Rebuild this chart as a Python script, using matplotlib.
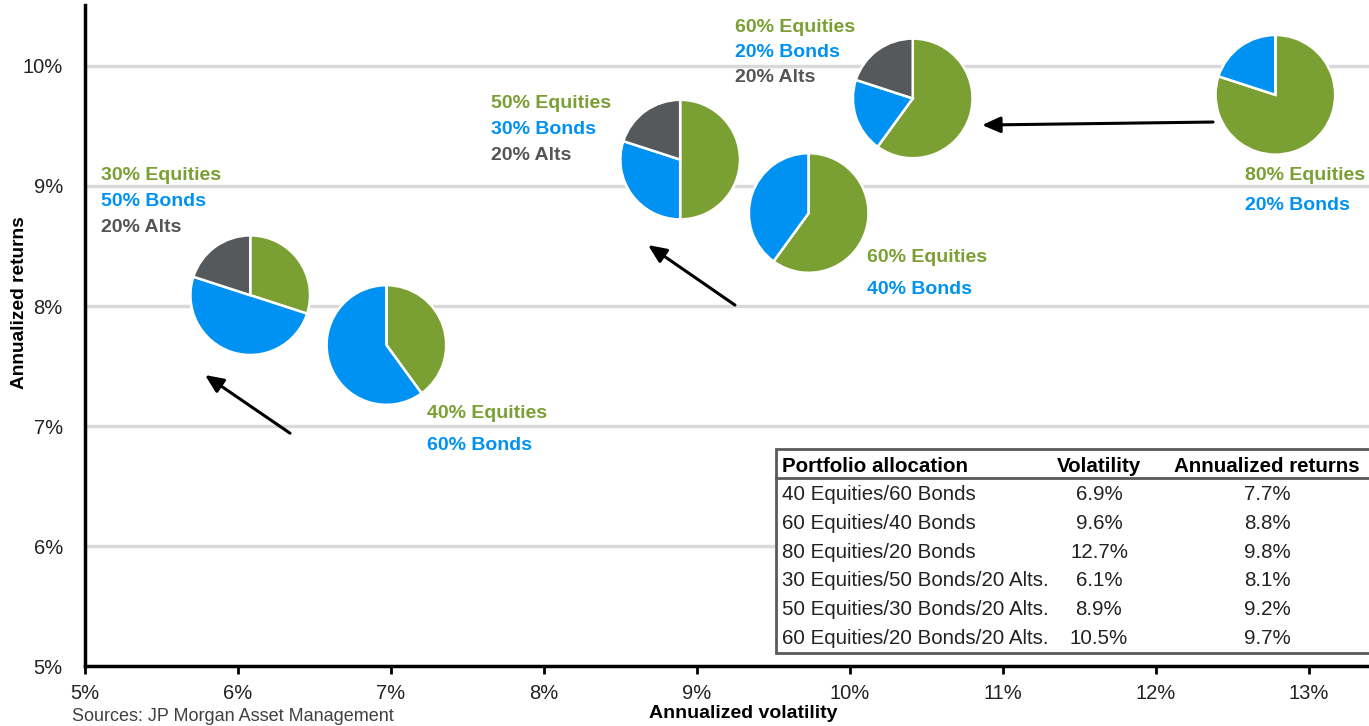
import matplotlib as mpl
import matplotlib.pyplot as plt
from matplotlib.patches import Rectangle

# data
labels = ["40 Equities/60 Bonds", "60 Equities/40 Bonds", "80 Equities/20 Bonds",
          "30 Equities/50 Bonds/20 Alts.", "50 Equities/30 Bonds/20 Alts.",
          "60 Equities/20 Bonds/20 Alts."]
volatility = [6.9, 9.6, 12.7, 6.1, 8.9, 10.5]
returns = [7.7, 8.8, 9.8, 8.1, 9.2, 9.7]
equities = [40, 60, 80, 30, 50, 60]
bonds = [60, 40, 20, 50, 30, 20]
alts = [0, 0, 0, 20, 20, 20]
# pie centres as drawn in the chart
pie_vol = [6.97, 9.73, 12.78, 6.08, 8.89, 10.41]
pie_ret = [7.675, 8.775, 9.76, 8.09, 9.22, 9.73]
x_ticks = [5, 6, 7, 8, 9, 10, 11, 12, 13]
y_ticks = [5, 6, 7, 8, 9, 10]

green = '#7a9f32'
blue = '#0092f2'
grey = '#55595c'

W, H = 1369, 726
mpl.rcParams['font.family'] = ['Liberation Sans', 'DejaVu Sans']

fig = plt.figure(figsize=(W / 100, H / 100), dpi=100)
ax = fig.add_axes([85 / W, 1 - 666 / H, 1 - 85 / W, (666 - 5) / H])
ax.set_xlim(5, 5 + (W - 85) / 153)
ax.set_ylim(5, 5 + 661 / 120)

ax.spines['top'].set_visible(False)
ax.spines['right'].set_visible(False)
for s in ['left', 'bottom']:
    ax.spines[s].set_linewidth(2.5)
    ax.spines[s].set_color('black')
ax.set_xticks(x_ticks)
ax.set_xticklabels(['%d%%' % t for t in x_ticks])
ax.set_yticks(y_ticks)
ax.set_yticklabels(['%d%%' % t for t in y_ticks])
ax.tick_params(axis='x', direction='out', length=6, width=2, pad=7, labelsize=14.5, labelcolor='#222222')
ax.tick_params(axis='y', length=0, pad=16, labelsize=14.5, labelcolor='#222222')
for t in y_ticks[1:]:
    ax.axhline(t, color='#d9d9d9', lw=2.5, zorder=0)

# pies
rx, ry = 61 / 153, 61 / 120
for i in range(len(labels)):
    sizes = [equities[i], bonds[i], alts[i]]
    pax = ax.inset_axes([pie_vol[i] - rx, pie_ret[i] - ry, 2 * rx, 2 * ry], transform=ax.transData)
    pax.pie(sizes, colors=[green, blue, grey], startangle=90, counterclock=False,
            wedgeprops=dict(edgecolor='white', linewidth=1.8))
    pax.set_xlim(-1.02, 1.02)
    pax.set_ylim(-1.02, 1.02)
    pax.axis('off')

# arrows (tail, head) in data units
arrows = [((6.34, 6.94), (5.784, 7.425)),
          ((9.248, 8.008), (8.68, 8.508)),
          ((12.373, 9.533), (10.863, 9.508))]
for tail, head in arrows:
    ax.annotate('', xy=head, xytext=tail,
                arrowprops=dict(arrowstyle='-|>,head_length=0.5,head_width=0.22', color='black',
                                lw=2.2, mutation_scale=22, shrinkA=0, shrinkB=0))

# overlay in pixel coordinates for texts and table
ov = fig.add_axes([0, 0, 1, 1])
ov.set_xlim(0, W)
ov.set_ylim(H, 0)
ov.axis('off')
ov.patch.set_alpha(0)

# pie labels: left x, first line y, line spacing
label_pos = [(427, 413, 32), (867, 258, 31), (1245, 175, 31),
             (101, 175, 26.5), (491, 104, 26), (735, 27, 25.5)]
for i, (lx, ly, dy) in enumerate(label_pos):
    lines = [('%d%% Equities' % equities[i], green), ('%d%% Bonds' % bonds[i], blue)]
    if alts[i]:
        lines.append(('%d%% Alts' % alts[i], '#555555'))
    for j, (txt, c) in enumerate(lines):
        ov.text(lx, ly + j * dy, txt, color=c, fontsize=14, fontweight='bold',
                ha='left', va='center')

# table
ov.add_patch(Rectangle((776, 449), 620, 204, facecolor='white', edgecolor='#5a5a5a',
                       lw=2, clip_on=False))
ov.plot([776, W], [478, 478], color='#5a5a5a', lw=2)
ov.text(782, 466, 'Portfolio allocation', fontsize=14.8, fontweight='bold', ha='left', va='center')
ov.text(1099, 466, 'Volatility', fontsize=14.8, fontweight='bold', ha='center', va='center')
ov.text(1267, 466, 'Annualized returns', fontsize=14.8, fontweight='bold', ha='center', va='center')
for i in range(len(labels)):
    yy = 495 + i * 28.6
    ov.text(782, yy, labels[i], fontsize=14.8, ha='left', va='center', color='#222222')
    ov.text(1099, yy, '%.1f%%' % volatility[i], fontsize=14.8, ha='center', va='center', color='#222222')
    ov.text(1267, yy, '%.1f%%' % returns[i], fontsize=14.8, ha='center', va='center', color='#222222')

ov.text(20, 303, 'Annualized returns', fontsize=13.8, fontweight='bold', rotation=90,
        ha='center', va='center')
ov.text(743, 714, 'Annualized volatility', fontsize=14, fontweight='bold', ha='center', va='center')
ov.text(72, 725, 'Sources: JP Morgan Asset Management', fontsize=13, color='#404040',
        ha='left', va='bottom')

fig.savefig('out.png', dpi=100)
